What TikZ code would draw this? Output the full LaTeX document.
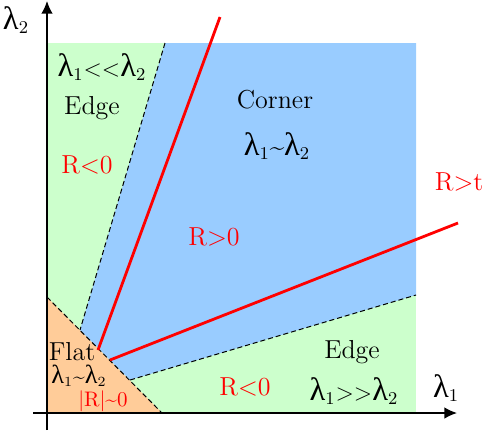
\documentclass[tikz,border=0pt]{standalone}
\usepackage{fontspec}
\newfontfamily\greekfont[Scale=1.25]{Liberation Serif}
\usetikzlibrary{arrows.meta, positioning}
\newcommand{\lam}[1]{{\greekfont λ}$_{#1}$}
\definecolor{edgegreen}{RGB}{204,255,204}
\definecolor{cornerblue}{RGB}{153,204,255}
\definecolor{flatorange}{RGB}{255,204,153}

\begin{document}
\begin{tikzpicture}[
    x=0.5pt, y=-0.5pt,
    >={Latex[length=2.2mm, width=2mm]},
    region/.style={draw=none, fill=#1},
    border/.style={
        line width=0.5pt, dash pattern=on 2.5pt off 1.5pt
    },
    axis/.style={
        ->, line width=0.7pt
    },
    response/.style={
        red, line width=1.4pt
    },
    label/.style={font=\fontsize{13}{15}\selectfont, inner sep=1pt},
    rlabel/.style={label, text=red},
    smalllabel/.style={font=\fontsize{10.5}{12}\selectfont, inner sep=0pt}
]
\useasboundingbox (0,0) rectangle (485,436);

% ── Regions ──
\fill[region=edgegreen] (47,43) rectangle (416,413);
\fill[region=cornerblue] (165,43) -- (416,43) -- (416,295) -- (130,380) -- (80,330) -- cycle;
\fill[region=flatorange] (47,297) -- (47,413) -- (162,413) -- cycle;

% ── Region borders ──
\coordinate (topsplit) at (165,43);
\coordinate (upperfoot) at (80,330);
\coordinate (lowerfoot) at (130,380);
\coordinate (rightsplit) at (416,295);
\coordinate (flattop) at (47,297);
\coordinate (flatright) at (162,413);
\draw[border] (topsplit) -- (upperfoot);
\draw[border] (lowerfoot) -- (rightsplit);
\draw[border] (flattop) -- (flatright);

% ── Response lines ──
\coordinate (upstart) at (98,350);
\coordinate (upend) at (220,17);
\coordinate (lowstart) at (110,360);
\coordinate (lowend) at (458,223);
\draw[response] (upstart) -- (upend);
\draw[response] (lowstart) -- (lowend);

% ── Axes ──
\coordinate (ybottom) at (47,430);
\coordinate (ytop) at (47,1);
\coordinate (xleft) at (33,413);
\coordinate (xright) at (457,413);
\draw[axis] (ybottom) -- (ytop);
\draw[axis] (xleft) -- (xright);
\node[label] (ylab) at (16,20) {\lam{2}};
\node[label] (xlab) at (446,388) {\lam{1}};

% ── Upper edge ──
\node[label] (edgeupcond) at (102,67) {\lam{1}$<<$\lam{2}};
\node[label] (edgeup) at (92,108) {Edge};
\node[rlabel] (rupper) at (87,165) {R<0};

% ── Corner ──
\node[label] (corner) at (275,100) {Corner};
\node[label] (cornercond) at (277,146) {\lam{1}\textasciitilde\lam{2}};
\node[rlabel] (rpos) at (214,237) {R>0};
\node[rlabel] (rthresh) at (459,182) {R>t};

% ── Lower edge ──
\node[label] (edgelow) at (352,352) {Edge};
\node[label] (edgelowcond) at (354,391) {\lam{1}$>>$\lam{2}};
\node[rlabel] (rlower) at (245,387) {R<0};

% ── Flat ──
\node[label] (flat) at (72,352) {Flat};
\node[smalllabel] (flatcond) at (79,376) {\lam{1}\textasciitilde\lam{2}};
\node[smalllabel, text=red] (rflat) at (103,401) {|R|\textasciitilde0};

\end{tikzpicture}
\end{document}
